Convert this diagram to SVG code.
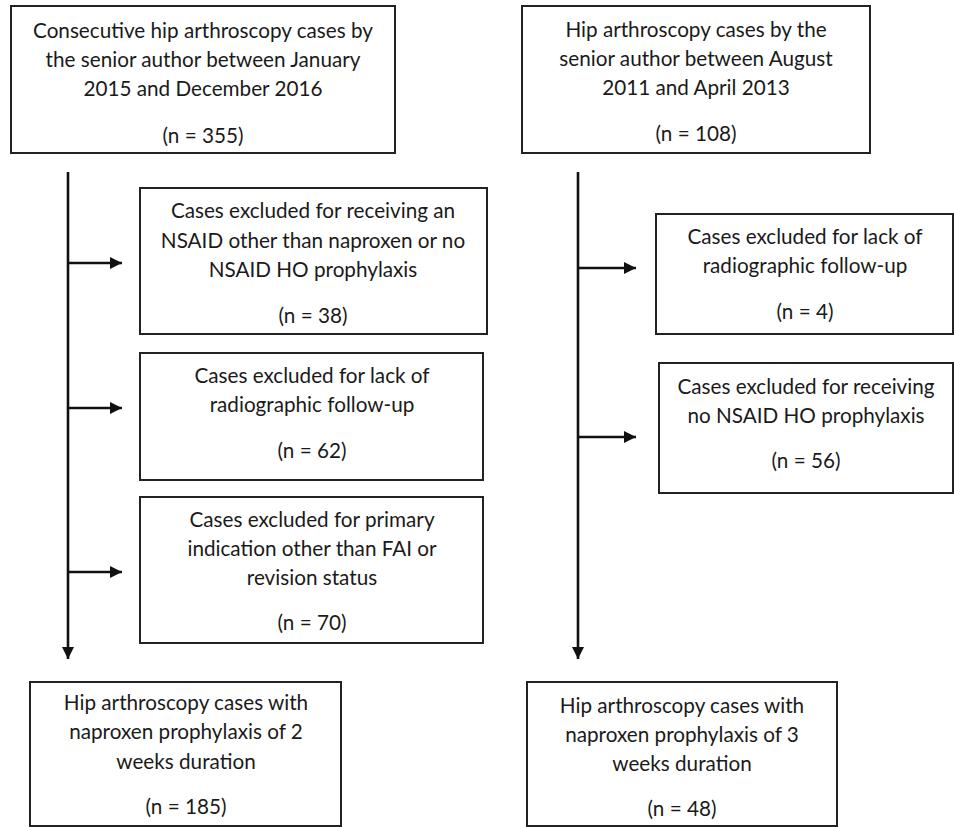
<svg xmlns="http://www.w3.org/2000/svg" width="954" height="827" viewBox="0 0 954 827">
<defs>
<style>
.box{fill:#fff;stroke:#222;stroke-width:2}
.t{font-family:Lato,"Open Sans","Liberation Sans",sans-serif;font-size:20.7px;fill:#1a1a1a;text-anchor:middle}
.c{stroke:#111;stroke-width:2.6;fill:none}
</style>
<marker id="ah" viewBox="0 0 12 12" refX="12" refY="6" markerWidth="12" markerHeight="12" markerUnits="userSpaceOnUse" orient="auto">
<path d="M0,0 L12,6 L0,12 Z" fill="#111"/>
</marker>
</defs>
<rect width="954" height="827" fill="#fff"/>
<g id="connectors">
<line class="c" x1="68" y1="172" x2="68" y2="659" marker-end="url(#ah)"/>
<line class="c" x1="68" y1="263" x2="122" y2="263" marker-end="url(#ah)"/>
<line class="c" x1="68" y1="408" x2="122" y2="408" marker-end="url(#ah)"/>
<line class="c" x1="68" y1="572" x2="122" y2="572" marker-end="url(#ah)"/>
<line class="c" x1="578" y1="172" x2="578" y2="659" marker-end="url(#ah)"/>
<line class="c" x1="578" y1="268" x2="636" y2="268" marker-end="url(#ah)"/>
<line class="c" x1="578" y1="437" x2="636" y2="437" marker-end="url(#ah)"/>
</g>
<g id="n1">
<rect class="box" x="11" y="6" width="384" height="147"/>
<text class="t" x="203" y="38">Consecutive hip arthroscopy cases by</text>
<text class="t" x="203" y="67">the senior author between January</text>
<text class="t" x="203" y="96">2015 and December 2016</text>
<text class="t" x="203" y="143">(n = 355)</text>
</g>
<g id="n2">
<rect class="box" x="522" y="6" width="348" height="147"/>
<text class="t" x="696" y="37">Hip arthroscopy cases by the</text>
<text class="t" x="696" y="66">senior author between August</text>
<text class="t" x="696" y="95">2011 and April 2013</text>
<text class="t" x="696" y="141">(n = 108)</text>
</g>
<g id="n3">
<rect class="box" x="140" y="188" width="347" height="146"/>
<text class="t" x="313" y="218">Cases excluded for receiving an</text>
<text class="t" x="313" y="248">NSAID other than naproxen or no</text>
<text class="t" x="313" y="277">NSAID HO prophylaxis</text>
<text class="t" x="313" y="323">(n = 38)</text>
</g>
<g id="n4">
<rect class="box" x="140" y="353" width="343" height="127"/>
<text class="t" x="312" y="383">Cases excluded for lack of</text>
<text class="t" x="312" y="412">radiographic follow-up</text>
<text class="t" x="312" y="458">(n = 62)</text>
</g>
<g id="n5">
<rect class="box" x="140" y="497" width="343" height="146"/>
<text class="t" x="312" y="527">Cases excluded for primary</text>
<text class="t" x="312" y="556">indication other than FAI or</text>
<text class="t" x="312" y="585">revision status</text>
<text class="t" x="312" y="630">(n = 70)</text>
</g>
<g id="n6">
<rect class="box" x="30" y="682" width="311" height="144"/>
<text class="t" x="186" y="710">Hip arthroscopy cases with</text>
<text class="t" x="186" y="739">naproxen prophylaxis of 2</text>
<text class="t" x="186" y="769">weeks duration</text>
<text class="t" x="186" y="814">(n = 185)</text>
</g>
<g id="n7">
<rect class="box" x="656" y="214" width="297" height="120"/>
<text class="t" x="805" y="244">Cases excluded for lack of</text>
<text class="t" x="805" y="273">radiographic follow-up</text>
<text class="t" x="805" y="319">(n = 4)</text>
</g>
<g id="n8">
<rect class="box" x="659" y="363" width="294" height="130"/>
<text class="t" x="806" y="394">Cases excluded for receiving</text>
<text class="t" x="806" y="423">no NSAID HO prophylaxis</text>
<text class="t" x="806" y="468">(n = 56)</text>
</g>
<g id="n9">
<rect class="box" x="527" y="682" width="310" height="144"/>
<text class="t" x="682" y="713">Hip arthroscopy cases with</text>
<text class="t" x="682" y="742">naproxen prophylaxis of 3</text>
<text class="t" x="682" y="771">weeks duration</text>
<text class="t" x="682" y="816">(n = 48)</text>
</g>
</svg>
